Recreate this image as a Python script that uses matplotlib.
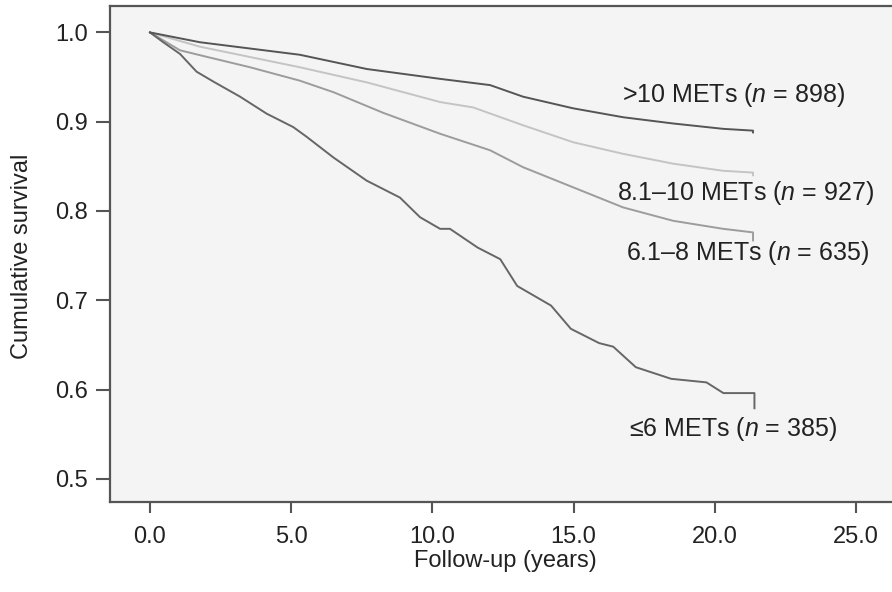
import numpy as np
import matplotlib
matplotlib.use('Agg')
import matplotlib.pyplot as plt

plt.rcParams['font.family'] = ['Liberation Sans', 'DejaVu Sans']
plt.rcParams['mathtext.fontset'] = 'custom'
plt.rcParams['mathtext.rm'] = 'Liberation Sans'
plt.rcParams['mathtext.it'] = 'Liberation Sans:italic'

# ---- data (years, cumulative survival) ----
t_gt10 = [0.0, 1.77, 5.3, 7.68, 10.27, 12.04, 13.21, 14.98, 16.75, 18.52, 20.29, 21.35, 21.35]
s_gt10 = [1.0, 0.989, 0.975, 0.959, 0.948, 0.941, 0.928, 0.915, 0.905, 0.898, 0.892, 0.890, 0.888]

t_8to10 = [0.0, 1.77, 5.3, 7.68, 10.27, 11.44, 13.21, 14.98, 16.75, 18.52, 20.29, 21.35, 21.35]
s_8to10 = [1.0, 0.984, 0.961, 0.944, 0.922, 0.916, 0.896, 0.877, 0.864, 0.853, 0.845, 0.843, 0.840]

t_6to8 = [0.0, 1.06, 1.77, 3.54, 5.3, 6.5, 8.25, 10.27, 12.04, 13.21, 14.98, 16.75, 18.52, 20.29, 21.35, 21.35]
s_6to8 = [1.0, 0.980, 0.9745, 0.961, 0.946, 0.933, 0.910, 0.8865, 0.868, 0.849, 0.8265, 0.804, 0.789, 0.780, 0.776, 0.767]

t_le6 = [0.0, 0.47, 1.06, 1.65, 2.24, 3.19, 4.13, 5.07, 5.55, 6.49, 7.67, 8.85, 9.56, 10.27, 10.62,
         11.6, 12.4, 13.0, 14.2, 14.9, 15.9, 16.4, 17.2, 18.45, 19.7, 20.3, 21.4, 21.4]
s_le6 = [1.0, 0.989, 0.976, 0.956, 0.945, 0.928, 0.909, 0.894, 0.883, 0.860, 0.834, 0.815, 0.793, 0.780, 0.780,
         0.759, 0.746, 0.716, 0.694, 0.668, 0.652, 0.648, 0.625, 0.612, 0.608, 0.596, 0.596, 0.579]

labels = ['>10 METs ($n$ = 898)', '8.1\u201310 METs ($n$ = 927)',
          '6.1\u20138 METs ($n$ = 635)', '\u22646 METs ($n$ = 385)']
label_x = [20.64, 21.07, 21.14, 20.64]
label_y = [0.9296, 0.8206, 0.7531, 0.5554]

xticks = [0, 5, 10, 15, 20, 25]
xticklabels = ['0.0', '5.0', '10.0', '15.0', '20.0', '25.0']
yticks = [0.5, 0.6, 0.7, 0.8, 0.9, 1.0]
yticklabels = ['0.5', '0.6', '0.7', '0.8', '0.9', '1.0']

#==========================================================
fig = plt.figure(figsize=(8.92, 5.92), dpi=100)
ax = fig.add_axes([110/892., 1-502/592., 1-110/892., (502-6)/592.])
ax.set_facecolor('#f4f4f4')

ax.plot(t_8to10, s_8to10, color='#c4c4c4', lw=1.4)
ax.plot(t_6to8, s_6to8, color='#9c9c9c', lw=1.4)
ax.plot(t_le6, s_le6, color='#666666', lw=1.4)
ax.plot(t_gt10, s_gt10, color='#555555', lw=1.4)

for lab, x, y in zip(labels, label_x, label_y):
    ax.text(x, y, lab, fontsize=18, ha='center', va='center', color='#222222')

ax.set_xlim(-1.416, 26.27)
ax.set_ylim(0.474, 1.0296)
ax.set_xticks(xticks)
ax.set_xticklabels(xticklabels)
ax.set_yticks(yticks)
ax.set_yticklabels(yticklabels)

for side in ['left', 'bottom', 'top']:
    ax.spines[side].set_color('#555555')
    ax.spines[side].set_linewidth(1.6)
ax.spines['right'].set_visible(False)

ax.tick_params(axis='y', length=10, width=1.5, color='#555555', pad=6, labelsize=17, labelcolor='#222222')
ax.tick_params(axis='x', length=8, width=1.5, color='#555555', pad=9, labelsize=17, labelcolor='#222222')

fig.text(22/892., 1-256/592., 'Cumulative survival', fontsize=17, rotation='vertical',
         ha='center', va='center', color='#222222')
fig.text(505/892., 1-561/592., 'Follow-up (years)', fontsize=17,
         ha='center', va='center', color='#222222')

fig.savefig('out.png', dpi=100)
